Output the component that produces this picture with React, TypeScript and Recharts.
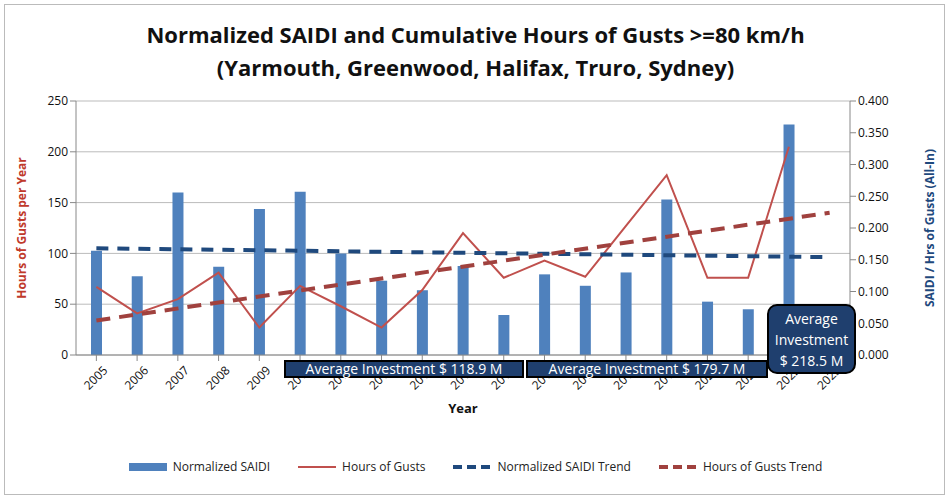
import React from 'react'
import { ComposedChart, Bar, Line, XAxis, YAxis, CartesianGrid, Legend } from 'recharts'

const years = ['2005', '2006', '2007', '2008', '2009', '2010', '2011', '2012', '2013', '2014', '2015', '2016', '2017', '2018', '2019', '2020', '2021', '2022', '2023']
const saidi = [0.164, 0.124, 0.256, 0.139, 0.23, 0.257, 0.16, 0.117, 0.102, 0.14, 0.063, 0.127, 0.109, 0.13, 0.245, 0.084, 0.072, 0.363, null]
const gusts = [67, 41, 55, 81, 27, 68, 48, 27, 64, 120, 76, 93, 77, 127, 177, 76, 76, 205, null]
const saidiTrend = [0.168, null, null, null, null, null, null, null, null, null, null, null, null, null, null, null, null, null, 0.154]
const gustsTrend = [34, null, null, null, null, null, null, null, null, null, null, null, null, null, null, null, null, null, 140]
const leftTicks = [0, 50, 100, 150, 200, 250]
const rightTicks = [0, 0.05, 0.1, 0.15, 0.2, 0.25, 0.3, 0.35, 0.4]

const data = years.map((y, i) => ({
  year: y,
  saidi: saidi[i],
  gusts: gusts[i],
  saidiTrend: saidiTrend[i],
  gustsTrend: gustsTrend[i],
}))

const font = 'Open Sans, Calibri, sans-serif'

function LegendContent() {
  const item = (icon: React.ReactNode, label: string) => (
    <span style={{ display: 'inline-flex', alignItems: 'center', margin: '0 14px', fontSize: 12, color: '#222' }}>
      {icon}
      <span style={{ marginLeft: 6 }}>{label}</span>
    </span>
  )
  return (
    <div style={{ display: 'flex', justifyContent: 'center', fontFamily: font }}>
      {item(<span style={{ width: 38, height: 8, background: '#4F81BD', display: 'inline-block' }} />, 'Normalized SAIDI')}
      {item(<span style={{ width: 38, height: 2, background: '#C0504D', display: 'inline-block' }} />, 'Hours of Gusts')}
      {item(<svg width={38} height={6}><line x1={0} y1={3} x2={38} y2={3} stroke="#1F497D" strokeWidth={4} strokeDasharray="9 5" /></svg>, 'Normalized SAIDI Trend')}
      {item(<svg width={38} height={6}><line x1={0} y1={3} x2={38} y2={3} stroke="#A0413E" strokeWidth={4} strokeDasharray="9 5" /></svg>, 'Hours of Gusts Trend')}
    </div>
  )
}

const box: React.CSSProperties = {
  position: 'absolute',
  background: '#1F3F6E',
  color: '#fff',
  border: '2px solid #000',
  fontFamily: font,
  fontSize: 14,
  textAlign: 'center',
  boxSizing: 'border-box',
}

export default function App() {
  return (
    <div style={{ position: 'absolute', left: 0, top: 0, width: 951, height: 501, background: '#fff' }}>
      <div style={{ position: 'absolute', left: 4, top: 4, width: 941, height: 491, border: '1px solid #bbb', boxSizing: 'border-box' }} />
      <div style={{ position: 'absolute', left: 0, top: 18, width: 951, textAlign: 'center', fontFamily: font, fontWeight: 700, fontSize: 22, lineHeight: '33px', color: '#111' }}>
        Normalized SAIDI and Cumulative Hours of Gusts &gt;=80 km/h
        <br />
        (Yarmouth, Greenwood, Halifax, Truro, Sydney)
      </div>
      <div style={{ position: 'absolute', left: 0, top: 0 }}>
        <ComposedChart width={951} height={501} data={data} margin={{ top: 101, left: 30, right: 51, bottom: 79 }} barCategoryGap={15}>
          <CartesianGrid vertical={false} stroke="#bbb" yAxisId="left" />
          <XAxis dataKey="year" height={50} angle={-45} textAnchor="end" interval={0} tick={{ fontSize: 12, fill: '#111', fontFamily: font, dx: 6, dy: 2 }} stroke="#888"
            label={{ value: 'Year', position: 'insideBottom', offset: -8, style: { fontSize: 13, fontWeight: 700, fill: '#111', fontFamily: font } }} />
          <YAxis yAxisId="left" domain={[0, 250]} ticks={leftTicks} width={46} tick={{ fontSize: 12, fill: '#111', fontFamily: font }} stroke="#888"
            label={{ value: 'Hours of Gusts per Year', angle: -90, position: 'insideLeft', offset: -8, style: { fontSize: 12, fontWeight: 700, fill: '#C0392B', fontFamily: font, textAnchor: 'middle' } }} />
          <YAxis yAxisId="right" orientation="right" domain={[0, 0.4]} ticks={rightTicks} tickFormatter={(v: number) => v.toFixed(3)} width={50} tick={{ fontSize: 12, fill: '#111', fontFamily: font }} stroke="#888"
            label={{ value: 'SAIDI / Hrs of Gusts  (All-In)', angle: -90, position: 'insideRight', offset: -30, style: { fontSize: 12, fontWeight: 700, fill: '#1F497D', fontFamily: font, textAnchor: 'middle' } }} />
          <Bar yAxisId="right" dataKey="saidi" name="Normalized SAIDI" fill="#4F81BD" barSize={11} isAnimationActive={false} />
          <Line yAxisId="left" dataKey="gusts" name="Hours of Gusts" stroke="#C0504D" strokeWidth={2} dot={false} isAnimationActive={false} />
          <Line yAxisId="right" dataKey="saidiTrend" name="Normalized SAIDI Trend" stroke="#1F497D" strokeWidth={4} strokeDasharray="12 9" dot={false} connectNulls isAnimationActive={false} />
          <Line yAxisId="left" dataKey="gustsTrend" name="Hours of Gusts Trend" stroke="#A0413E" strokeWidth={4} strokeDasharray="14 9" dot={false} connectNulls isAnimationActive={false} />
          <Legend content={<LegendContent />} wrapperStyle={{ top: 458, left: 0, width: 951 }} />
        </ComposedChart>
      </div>
      <div style={{ ...box, left: 284, top: 360, width: 240, height: 18, lineHeight: '14px' }}>Average Investment $ 118.9 M</div>
      <div style={{ ...box, left: 526, top: 360, width: 242, height: 18, lineHeight: '14px' }}>Average Investment $ 179.7 M</div>
      <div style={{ ...box, left: 767, top: 304, width: 89, height: 70, borderRadius: 10, lineHeight: '21px', paddingTop: 2 }}>Average<br />Investment<br />$ 218.5 M</div>
    </div>
  )
}
